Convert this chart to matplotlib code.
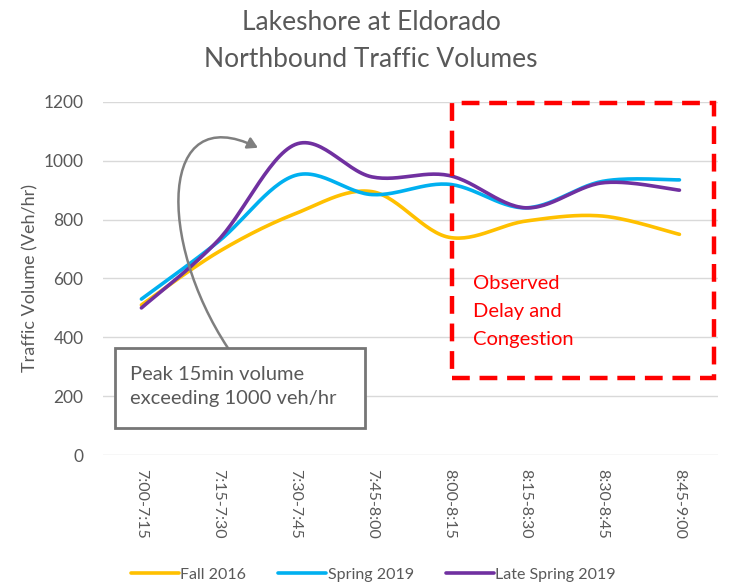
import numpy as np
import matplotlib.pyplot as plt
from matplotlib.path import Path
from matplotlib.patches import FancyArrowPatch, Rectangle

# data
periods = ["7:00-7:15", "7:15-7:30", "7:30-7:45", "7:45-8:00",
           "8:00-8:15", "8:15-8:30", "8:30-8:45", "8:45-9:00"]
fall_2016 = [510, 690, 820, 895, 740, 795, 812, 750]
spring_2019 = [530, 725, 950, 885, 920, 840, 930, 935]
late_spring_2019 = [500, 730, 1055, 945, 950, 840, 925, 900]

plt.rcParams['font.family'] = ['Lato', 'DejaVu Sans']
grey = '#595959'


def smooth(y, n=30):
    # Catmull-Rom style curve through the points, like Excel's smoothed line
    y = np.asarray(y, dtype=float)
    x = np.arange(len(y), dtype=float)
    px = np.concatenate([[x[0]], x, [x[-1]]])
    py = np.concatenate([[y[0]], y, [y[-1]]])
    xs, ys = [], []
    for i in range(1, len(px) - 2):
        t = np.linspace(0, 1, n, endpoint=False)
        p0, p1, p2, p3 = py[i - 1], py[i], py[i + 1], py[i + 2]
        q0, q1, q2, q3 = px[i - 1], px[i], px[i + 1], px[i + 2]
        for arr, a0, a1, a2, a3 in ((xs, q0, q1, q2, q3), (ys, p0, p1, p2, p3)):
            arr.extend(0.5 * ((2 * a1) + (-a0 + a2) * t
                              + (2 * a0 - 5 * a1 + 4 * a2 - a3) * t ** 2
                              + (-a0 + 3 * a1 - 3 * a2 + a3) * t ** 3))
    xs.append(x[-1])
    ys.append(y[-1])
    return np.array(xs), np.array(ys)


fig = plt.figure(figsize=(7.32, 5.82), dpi=100)
ax = fig.add_axes([0.1407, 0.218, 0.840, 0.607])

series = [("Fall 2016", fall_2016, '#FFC000'),
          ("Spring 2019", spring_2019, '#00B0F0'),
          ("Late Spring 2019", late_spring_2019, '#7030A0')]
for name, vals, col in series:
    sx, sy = smooth(vals)
    ax.plot(sx, sy, color=col, lw=2.6, label=name, solid_capstyle='round')

ax.set_xlim(-0.5, len(periods) - 0.5)
ax.set_ylim(0, 1200)
ax.set_yticks(range(0, 1201, 200))
ax.set_xticks(range(len(periods)))
ax.set_xticklabels(periods, rotation=-90, va='top', ha='center')
ax.tick_params(axis='both', length=0, labelcolor=grey)
ax.tick_params(axis='x', pad=10, labelsize=11.5)
ax.tick_params(axis='y', pad=14, labelsize=12.5)
ax.grid(axis='y', color='#D9D9D9', lw=1)
ax.set_axisbelow(True)
for s in ax.spines.values():
    s.set_visible(False)
ax.set_ylabel("Traffic Volume (Veh/hr)", color=grey, fontsize=13, labelpad=4)

fig.text(0.507, 0.962, "Lakeshore at Eldorado", ha='center', va='center',
         fontsize=19, color=grey)
fig.text(0.507, 0.898, "Northbound Traffic Volumes", ha='center', va='center',
         fontsize=19, color=grey)

# observed delay box
rect = Rectangle((4.04, 262), 3.41, 935, fill=False, ec='#FF0000', lw=3.2,
                 ls=(0, (4, 2.2)), clip_on=False, zorder=4)
ax.add_patch(rect)
ax.text(4.31, 612, "Observed\nDelay and\nCongestion", color='#FF0000',
        fontsize=14.5, va='top', ha='left', linespacing=1.8)

# peak annotation box
box = Rectangle((-0.344, 92), 3.25, 272, fc='white', ec='#767676', lw=2,
                zorder=5)
ax.add_patch(box)
ax.text(-0.15, 233, "Peak 15min volume\nexceeding 1000 veh/hr", color=grey,
        fontsize=14.5, va='center', ha='left', linespacing=1.45, zorder=6)

verts = [(1.125, 364), (0.2, 730), (0.23, 1208), (1.516, 1044)]
arrow = FancyArrowPatch(path=Path(verts, [Path.MOVETO, Path.CURVE4,
                                          Path.CURVE4, Path.CURVE4]),
                        arrowstyle='-|>,head_length=6,head_width=3.5',
                        color='#7F7F7F', lw=1.8, zorder=4)
ax.add_patch(arrow)

fig.legend(loc='lower center', bbox_to_anchor=(0.51, -0.024), ncol=3,
           frameon=False, fontsize=11.5, labelcolor=grey, handlelength=3.0,
           handletextpad=0.1, columnspacing=2.0)

fig.savefig("out.png", dpi=100)
